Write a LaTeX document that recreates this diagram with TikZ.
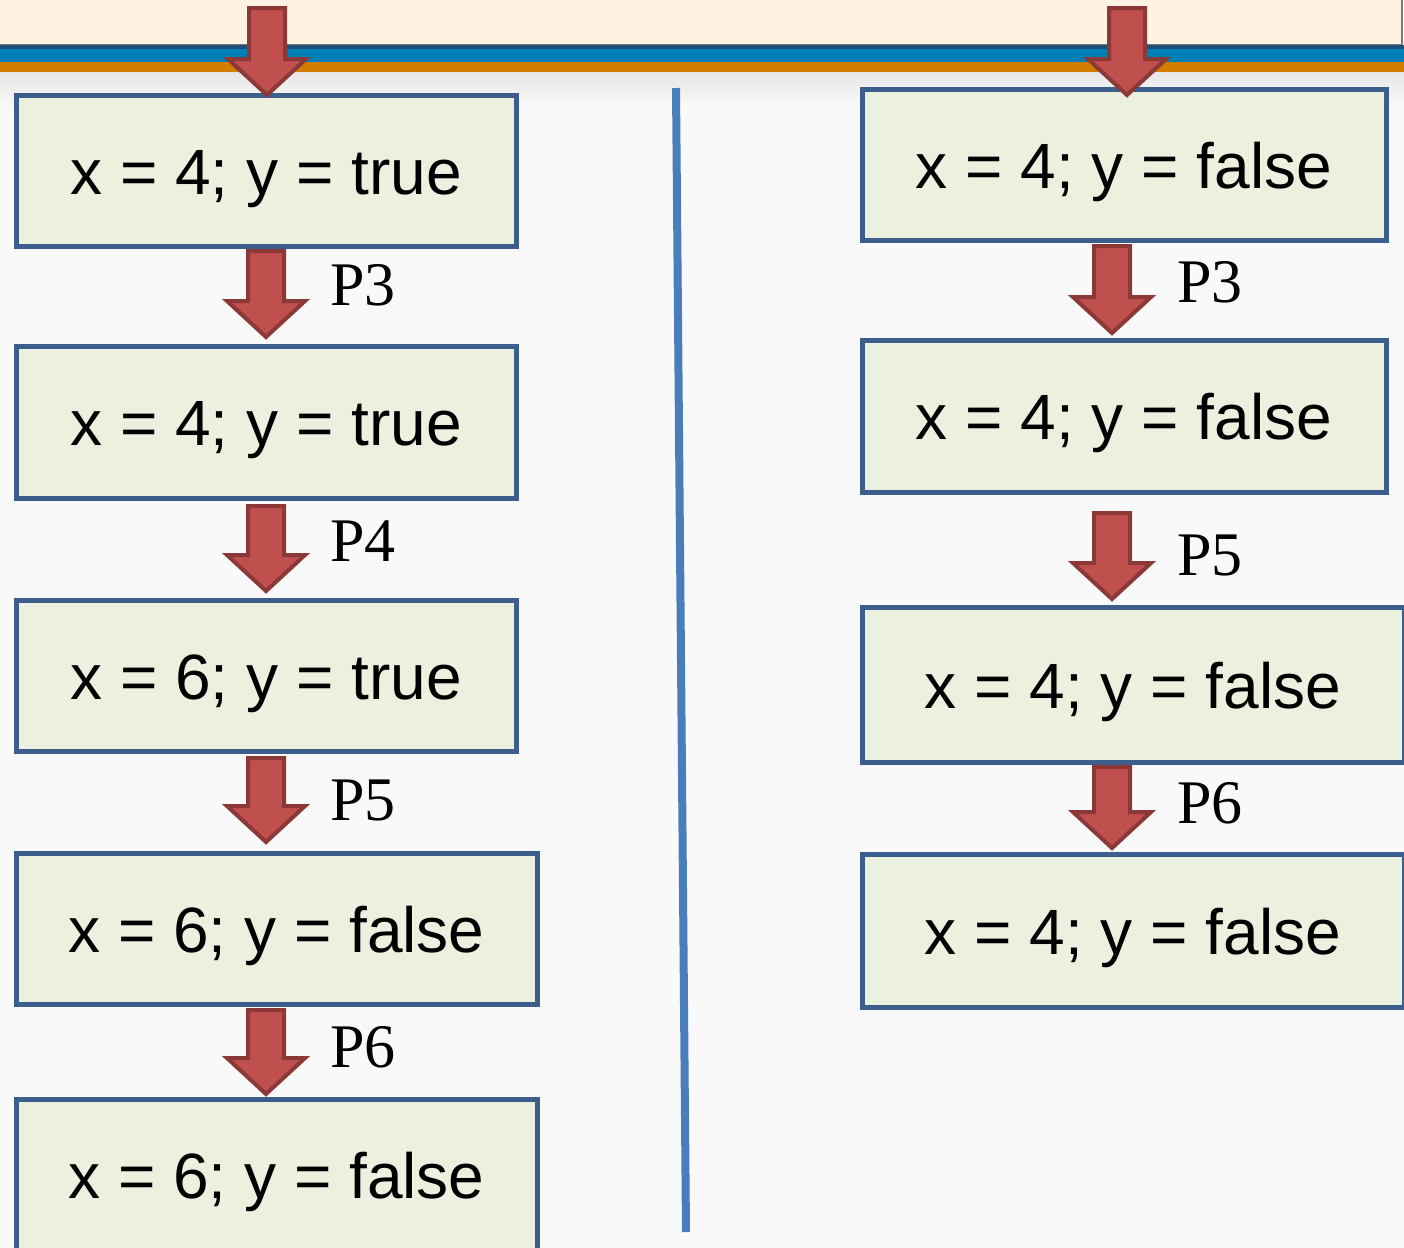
\documentclass[tikz,border=0pt]{standalone}
\usepackage{fontspec}
\setmainfont{Liberation Sans}
\newfontfamily\labelfont{Liberation Serif}
\definecolor{bgcol}{HTML}{F9F9F9}
\definecolor{bgshade}{HTML}{E6E6E6}
\definecolor{cream}{HTML}{FEF3E2}
\definecolor{creamline}{HTML}{7A7A7A}
\definecolor{banddark}{HTML}{1F4E79}
\definecolor{bandblue}{HTML}{0080B6}
\definecolor{bandorange}{HTML}{D27C00}
\definecolor{boxfill}{HTML}{EBF0DF}
\definecolor{boxline}{HTML}{3B5E8C}
\definecolor{arrowfill}{HTML}{C0504D}
\definecolor{arrowline}{HTML}{8C3836}
\definecolor{divider}{HTML}{4A7EBB}
\newcommand\blockarrow[3]{% center x, top y, tip y (px)
  \draw[barrow] (#1-18,#2+2) -- (#1+18,#2+2) -- (#1+18,#3-39)
    -- (#1+39,#3-39) -- (#1,#3-3) -- (#1-39,#3-39)
    -- (#1-18,#3-39) -- cycle;}
\begin{document}
\begin{tikzpicture}[x=0.5pt,y=-0.5pt,
  statebox/.style={draw=boxline, fill=boxfill, line width=2.5pt, inner sep=0pt,
    text height=23.5pt, text depth=0pt, font=\fontsize{32}{38}\selectfont},
  plabel/.style={anchor=base west, inner sep=0pt, font=\labelfont\fontsize{31}{36}\selectfont},
  barrow/.style={draw=arrowline, fill=arrowfill, line width=2pt, line join=miter}]
\useasboundingbox (0,0) rectangle (1404,1248);
% background
\fill[bgcol] (0,0) rectangle (1404,1248);
\shade[top color=bgshade, bottom color=bgcol] (0,72) rectangle (1404,105);
% banner
\fill[cream] (0,0) rectangle (1402,45);
\draw[creamline, line width=0.6pt] (0,45) -- (1402,45) -- (1402,0);
\fill[banddark] (0,45) rectangle (1404,49);
\fill[bandblue] (0,49) rectangle (1404,62);
\fill[bandorange] (0,62) rectangle (1404,72);
% divider
\draw[divider, line width=4pt] (676,88) -- (686,1232);
% left column
\node[statebox, minimum width=250pt, minimum height=75.5pt] (L1) at (266,170.5) {x = 4; y = true};
\node[statebox, minimum width=250pt, minimum height=76pt] (L2) at (266,422) {x = 4; y = true};
\node[statebox, minimum width=250pt, minimum height=75.5pt] (L3) at (266,675.5) {x = 6; y = true};
\node[statebox, minimum width=260.5pt, minimum height=75.5pt] (L4) at (276.5,928.5) {x = 6; y = false};
\node[statebox, minimum width=260.5pt, minimum height=75.5pt] (L5) at (276.5,1174.5) {x = 6; y = false};
% right column
\node[statebox, minimum width=262pt, minimum height=75.5pt] (R1) at (1124,164.5) {x = 4; y = false};
\node[statebox, minimum width=262pt, minimum height=76pt] (R2) at (1124,416) {x = 4; y = false};
\node[statebox, minimum width=271pt, minimum height=77.5pt] (R3) at (1133,685) {x = 4; y = false};
\node[statebox, minimum width=271pt, minimum height=76.5pt] (R4) at (1133,930.5) {x = 4; y = false};
% arrows
\blockarrow{267}{6}{98}
\blockarrow{266}{249}{340}
\blockarrow{266}{504}{594}
\blockarrow{266}{756}{845}
\blockarrow{266}{1008}{1097}
\blockarrow{1127}{6}{98}
\blockarrow{1112}{244}{336}
\blockarrow{1112}{511}{602}
\blockarrow{1112}{765}{851}
% labels
\node[plabel] (lp3) at (330,305) {P3};
\node[plabel] (lp4) at (330,561) {P4};
\node[plabel] (lp5) at (330,820) {P5};
\node[plabel] (lp6) at (330,1067) {P6};
\node[plabel] (rp3) at (1177,302) {P3};
\node[plabel] (rp5) at (1177,575) {P5};
\node[plabel] (rp6) at (1177,823) {P6};
\end{tikzpicture}
\end{document}
